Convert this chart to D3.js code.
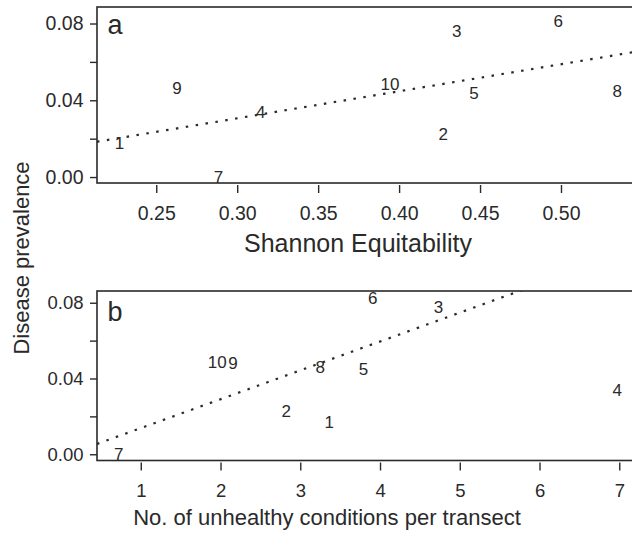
<!DOCTYPE html>
<html>
<head>
<meta charset="utf-8">
<script src="https://cdn.jsdelivr.net/npm/d3@7"></script>
<style>
  html, body { margin: 0; padding: 0; background: #fff; }
  svg { display: block; font-family: "Liberation Sans", Arial, Helvetica, sans-serif; }
</style>
</head>
<body>
<svg id="chart" width="632" height="535"></svg>
<script>
// ---------- data ----------
const siteLabels = ["1", "2", "3", "4", "5", "6", "7", "8", "9", "10"];
// panel a: Shannon Equitability vs disease prevalence
const equitability = [0.2273, 0.4273, 0.4356, 0.3146, 0.4463, 0.4983, 0.2885, 0.5348, 0.2628, 0.3944];
const prevalenceA  = [0.0176, 0.0223, 0.0762, 0.0340, 0.0441, 0.0815, 0.0000, 0.0450, 0.0467, 0.0485];
// panel b: No. of unhealthy conditions vs disease prevalence
const unhealthy    = [3.362, 2.823, 4.732, 6.975, 3.792, 3.910, 0.722, 3.249, 2.157, 1.959];
const prevalenceB  = [0.0172, 0.0228, 0.0776, 0.0339, 0.0449, 0.0828, 0.0000, 0.0459, 0.0482, 0.0489];
// fitted regression lines (intercept, slope)
const fitA = [-0.01167, 0.1409];
const fitB = [-0.00143, 0.01524];
// ticks
const yTicks = [0, 0.02, 0.04, 0.06, 0.08];
const yTickLabels = ["0.00", "", "0.04", "", "0.08"];
const xTicksA = [0.25, 0.30, 0.35, 0.40, 0.45, 0.50];
const xTicksB = [1, 2, 3, 4, 5, 6, 7];
const panelLetters = ["a", "b"];
const xTitles = ["Shannon Equitability", "No. of unhealthy conditions per transect"];
const yTitle = "Disease prevalence";

// ---------- layout ----------
const svg = d3.select("#chart");
const ink = "#2a2a2a";

const panels = [
  { x: equitability, y: prevalenceA, fit: fitA, xTicks: xTicksA, xFmt: d3.format(".2f"),
    xDomain: [0.2134, 0.5488], yDomain: [-0.0031, 0.0886],
    left: 97, right: 640, top: 7, bottom: 183,
    tickFont: 19.5, labelFont: 17, letterFont: 27, titleFont: 25,
    letterBase: 34, xLabBase: 37, titleBase: 251.7, titleX: 358, xTitle: xTitles[0], letter: panelLetters[0] },
  { x: unhealthy, y: prevalenceB, fit: fitB, xTicks: xTicksB, xFmt: d3.format("d"),
    xDomain: [0.451, 7.26], yDomain: [-0.0033, 0.0862],
    left: 97, right: 640, top: 291, bottom: 460.5,
    tickFont: 18.5, labelFont: 17, letterFont: 27, titleFont: 22,
    letterBase: 321, xLabBase: 36, titleBase: 524.5, titleX: 327, xTitle: xTitles[1], letter: panelLetters[1] }
];

panels.forEach((p, pi) => {
  const xs = d3.scaleLinear().domain(p.xDomain).range([p.left, p.right]);
  const ys = d3.scaleLinear().domain(p.yDomain).range([p.bottom, p.top]);
  const g = svg.append("g");

  const clipId = "clip" + pi;
  g.append("clipPath").attr("id", clipId)
    .append("rect").attr("x", p.left).attr("y", p.top)
    .attr("width", p.right - p.left).attr("height", p.bottom - p.top);

  // regression line (dotted)
  const fitLine = d3.line().x(d => xs(d)).y(d => ys(p.fit[0] + p.fit[1] * d));
  g.append("path")
    .attr("clip-path", `url(#${clipId})`)
    .attr("d", fitLine(p.xDomain))
    .attr("fill", "none").attr("stroke", ink)
    .attr("stroke-width", 2.2).attr("stroke-dasharray", "2.5,7.5");

  // point labels
  g.append("g").selectAll("text").data(siteLabels).join("text")
    .attr("x", (d, i) => xs(p.x[i]))
    .attr("y", (d, i) => ys(p.y[i]))
    .attr("dy", "0.36em")
    .attr("text-anchor", "middle")
    .attr("font-size", p.labelFont)
    .attr("fill", ink)
    .text(d => d);

  // frame
  g.append("rect")
    .attr("x", p.left).attr("y", p.top)
    .attr("width", p.right - p.left).attr("height", p.bottom - p.top)
    .attr("fill", "none").attr("stroke", ink).attr("stroke-width", 1.6);

  // y axis
  const yAxis = g.append("g").attr("transform", `translate(${p.left},0)`)
    .call(d3.axisLeft(ys).tickValues(yTicks).tickSize(7).tickPadding(6.5)
      .tickFormat((d, i) => yTickLabels[i]));
  yAxis.select(".domain").remove();
  yAxis.selectAll("line").attr("stroke", ink).attr("stroke-width", 1.4);
  yAxis.selectAll("text").attr("font-size", p.tickFont).attr("fill", ink)
    .attr("font-family", null);

  // x axis
  const xAxis = g.append("g").attr("transform", `translate(0,${p.bottom + 2})`)
    .call(d3.axisBottom(xs).tickValues(p.xTicks).tickSize(8).tickFormat(p.xFmt));
  xAxis.select(".domain").remove();
  xAxis.selectAll("line").attr("stroke", ink).attr("stroke-width", 1.4);
  xAxis.selectAll("text").attr("font-size", p.tickFont).attr("fill", ink)
    .attr("font-family", null)
    .attr("y", p.xLabBase - 2).attr("dy", null);

  // panel letter
  g.append("text").attr("x", p.left + 10.5).attr("y", p.letterBase)
    .attr("font-size", p.letterFont).attr("fill", ink).text(p.letter);

  // x title
  g.append("text").attr("x", p.titleX).attr("y", p.titleBase)
    .attr("text-anchor", "middle").attr("font-size", p.titleFont).attr("fill", ink)
    .text(p.xTitle);
});

// shared y title
svg.append("text")
  .attr("transform", "translate(29,258) rotate(-90)")
  .attr("text-anchor", "middle")
  .attr("font-size", 22).attr("fill", ink)
  .text(yTitle);
</script>
</body>
</html>
